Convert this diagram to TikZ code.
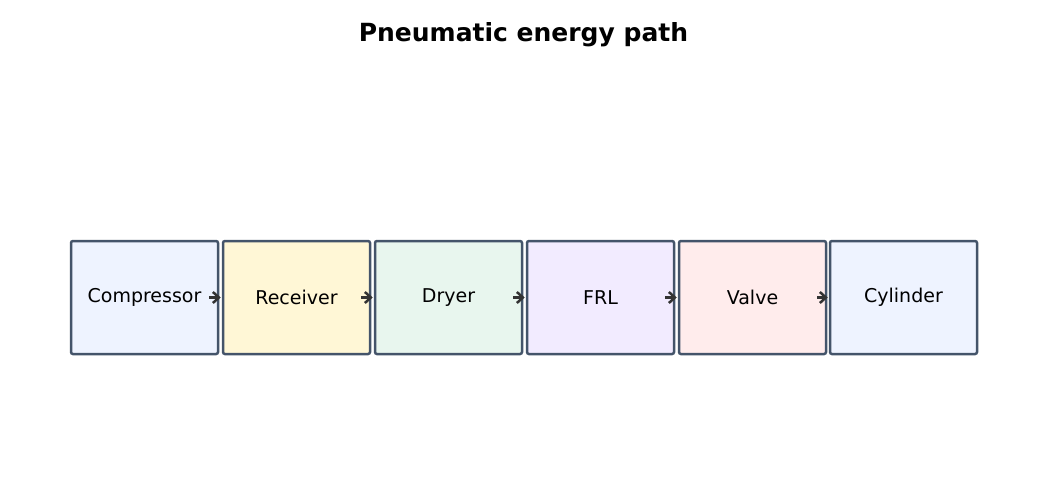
\documentclass[tikz,border=0pt]{standalone}
\usepackage{fontspec}
\setmainfont{DejaVu Sans}
\usetikzlibrary{arrows.meta}
\definecolor{edge}{HTML}{44546A}
\definecolor{fa}{HTML}{EEF3FF}
\definecolor{fb}{HTML}{FFF7D6}
\definecolor{fc}{HTML}{E8F6EE}
\definecolor{fd}{HTML}{F2EBFF}
\definecolor{fe}{HTML}{FFECEC}
\definecolor{arr}{HTML}{333333}
\begin{document}
\begin{tikzpicture}[x=1pt,y=-1pt,
  box/.style={draw=edge,line width=2.5pt,rounded corners=2pt,minimum width=147pt,minimum height=113pt,inner sep=0pt,font=\fontsize{19}{22}\selectfont},
  conn/.style={draw=arr,line width=2.5pt,-{Straight Barb[length=6pt,width=11pt]}}]
\useasboundingbox (0,0) rectangle (1047,496);
\node[font=\bfseries\fontsize{25}{30}\selectfont] (t) at (523.5,35) {Pneumatic energy path};
\node[box,fill=fa] (a) at (144.5,297.5) {Compressor};
\node[box,fill=fb] (b) at (296.5,297.5) {Receiver};
\node[box,fill=fc] (c) at (448.5,297.5) {Dryer};
\node[box,fill=fd] (d) at (600.5,297.5) {FRL};
\node[box,fill=fe] (e) at (752.5,297.5) {Valve};
\node[box,fill=fa] (f) at (903.5,297.5) {Cylinder};
\foreach \p/\q in {a/b,b/c,c/d,d/e,e/f}{\draw[conn] ([xshift=-10pt]\p.east) -- ([xshift=-1pt]\q.west);}
\end{tikzpicture}
\end{document}
